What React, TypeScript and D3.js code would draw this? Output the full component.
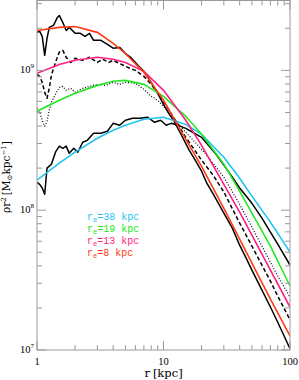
import React from 'react'
import * as d3 from 'd3'

// smooth fits, sampled at the same radii
const rFit = [1, 1.5, 2, 3, 4, 5, 7, 10, 15, 20, 30, 40, 50, 70, 100]
const fitRe8 = [1.93e9, 2.03e9, 2.06e9, 1.87e9, 1.56e9, 1.32e9, 9.68e8, 6.11e8, 3.21e8, 2.06e8, 1.03e8, 6.21e7, 4.18e7, 2.31e7, 1.26e7]
const fitRe13 = [9.52e8, 1.1e9, 1.18e9, 1.24e9, 1.2e9, 1.14e9, 9.84e8, 7.2e8, 4.4e8, 2.91e8, 1.53e8, 9.68e7, 6.63e7, 3.73e7, 2.03e7]
const fitRe19 = [5.1e8, 6.11e8, 6.85e8, 7.81e8, 8.35e8, 8.48e8, 7.94e8, 6.52e8, 4.69e8, 3.49e8, 2.13e8, 1.37e8, 9.52e7, 5.53e7, 2.87e7]
const fitRe38 = [1.64e8, 2.17e8, 2.6e8, 3.27e8, 3.73e8, 4.05e8, 4.47e8, 4.62e8, 4.11e8, 3.49e8, 2.39e8, 1.69e8, 1.26e8, 8.21e7, 5.01e7]

// simulation profiles
const rSimA = [1, 1.05, 1.1, 1.15, 1.2, 1.25, 1.35, 1.45, 1.5, 1.6, 1.7, 1.8, 2, 2.2, 2.4, 2.6, 2.8, 3.2, 3.5, 4, 4.5, 5, 5.5, 6, 6.5, 7, 8, 9, 10, 11, 12, 14, 16, 18, 20, 22, 25, 30, 35, 40, 45, 50, 60, 70, 80, 100]
const simA = [1.87e9, 1.9e9, 1.75e9, 1.28e9, 1.69e9, 2.03e9, 2.1e9, 2.39e9, 2.47e9, 2.2e9, 1.93e9, 2.03e9, 1.84e9, 1.84e9, 1.75e9, 1.84e9, 1.64e9, 1.64e9, 1.56e9, 1.44e9, 1.46e9, 1.32e9, 1.24e9, 1.14e9, 1.05e9, 9.84e8, 8.21e8, 6.85e8, 5.71e8, 4.93e8, 4.4e8, 3.38e8, 2.68e8, 2.24e8, 1.9e8, 1.56e8, 1.28e8, 9.52e7, 7.44e7, 5.62e7, 4.54e7, 3.73e7, 2.68e7, 2.03e7, 1.58e7, 1.02e7]

const rSimB = [1, 1.05, 1.1, 1.15, 1.2, 1.25, 1.3, 1.4, 1.5, 1.6, 1.7, 1.85, 2, 2.3, 2.6, 3, 3.3, 3.7, 4, 4.5, 5, 5.5, 6, 7, 8, 9, 10, 12, 15, 20, 25, 30, 40, 50, 60, 70, 80, 100]
const simB = [9.36e8, 9.06e8, 8.21e8, 6.96e8, 6.31e8, 7.44e8, 9.21e8, 1.14e9, 1.35e9, 1.39e9, 1.24e9, 1.14e9, 1.22e9, 1.18e9, 1.24e9, 1.14e9, 1.2e9, 1.14e9, 1.18e9, 1.12e9, 1.07e9, 1.03e9, 1.0e9, 9.06e8, 7.94e8, 6.85e8, 6.01e8, 4.62e8, 3.32e8, 2.28e8, 1.75e8, 1.35e8, 8.08e7, 5.53e7, 4.05e7, 3.11e7, 2.43e7, 1.64e7]

const rSimC = [1, 1.05, 1.1, 1.15, 1.2, 1.25, 1.3, 1.4, 1.5, 1.6, 1.7, 1.85, 2, 2.3, 2.6, 3, 3.5, 4, 4.5, 5, 6, 7, 8, 9, 10, 12, 15, 20, 25, 30, 40, 50, 60, 70, 80, 100]
const simC = [5.35e8, 5.01e8, 4.4e8, 3.98e8, 4.32e8, 5.18e8, 5.91e8, 6.74e8, 7.56e8, 7.69e8, 7.2e8, 7.44e8, 6.96e8, 7.44e8, 7.69e8, 7.94e8, 7.81e8, 8.21e8, 7.94e8, 8.21e8, 8.08e8, 7.32e8, 6.52e8, 6.11e8, 5.53e8, 4.54e8, 3.61e8, 2.73e8, 2.13e8, 1.72e8, 1.1e8, 7.56e7, 5.53e7, 4.25e7, 3.38e7, 2.39e7]

const rSimD = [1, 1.05, 1.1, 1.15, 1.2, 1.3, 1.4, 1.5, 1.6, 1.7, 1.8, 1.95, 2.1, 2.3, 2.5, 2.8, 3.2, 3.6, 4, 4.5, 5, 5.7, 6.5, 7.5, 8.5, 9.5, 10.5, 11.5, 13, 15, 17, 20, 23, 26, 30, 35, 40, 50, 60, 70, 80, 100]
const simD = [1.58e8, 1.53e8, 1.44e8, 1.3e8, 2.0e8, 2.13e8, 2.6e8, 2.87e8, 2.77e8, 2.87e8, 2.55e8, 2.77e8, 2.6e8, 3.06e8, 3.16e8, 3.55e8, 3.55e8, 3.67e8, 4.18e8, 4.05e8, 4.4e8, 4.54e8, 4.54e8, 4.62e8, 4.25e8, 4.4e8, 4.05e8, 4.18e8, 4.05e8, 3.85e8, 3.61e8, 3.32e8, 2.87e8, 2.51e8, 2.1e8, 1.72e8, 1.44e8, 1.12e8, 8.77e7, 6.96e7, 5.72e7, 4.05e7]

const legendRe = ['38', '19', '13', '8']
const legendColors = ['#1ec4f0', '#22e822', '#ff1f82', '#ff3a14']
const xLabels = [1, 10, 100]
const yLabelExp = [7, 8, 9]

const W = 299, H = 380
const margin = { left: 37, right: 9, top: 0.5, bottom: 30 }

export default function App() {
	const x = d3.scaleLog().domain([1, 100]).range([margin.left, W - margin.right])
	const y = d3.scaleLog().domain([1e7, 3.16e9]).range([H - margin.bottom, margin.top])

	const line = d3
		.line<[number, number]>()
		.x((d) => x(d[0]))
		.y((d) => y(d[1]))
	const path = (rs: number[], vs: number[]) => line(rs.map((r, i) => [r, vs[i]]) as [number, number][]) || ''

	const axisColor = '#9a9a9a'
	const serif = "'Liberation Serif', 'Times New Roman', serif"
	const wideSerif = "'DejaVu Serif', serif"
	const x0 = x(1), x1 = x(100), y0 = y(1e7), y1 = margin.top
	const isMajor = (v: number) => Math.abs(Math.log10(v) - Math.round(Math.log10(v))) < 1e-6

	const xt = x.ticks()
	const yt = y.ticks().filter((v) => v <= 3.16e9)

	const sims = [
		{ rs: rSimA, vs: simA, dash: undefined, w: 1.5 },
		{ rs: rSimB, vs: simB, dash: '4,2.5', w: 1.5 },
		{ rs: rSimC, vs: simC, dash: '1,1.8', w: 1.2 },
		{ rs: rSimD, vs: simD, dash: undefined, w: 1.5 },
	]
	const fits = [fitRe38, fitRe19, fitRe13, fitRe8]

	return (
		<svg width={W} height={H} style={{ position: 'absolute', left: 0, top: 0, background: '#fff' }}>
			<defs>
				<clipPath id="plot">
					<rect x={x0} y={y1} width={x1 - x0} height={y0 - y1} />
				</clipPath>
			</defs>
			<g clipPath="url(#plot)" fill="none">
				{sims.map((s, i) => (
					<path key={'s' + i} d={path(s.rs, s.vs)} stroke="#000" strokeWidth={s.w} strokeDasharray={s.dash} strokeLinejoin="round" />
				))}
				{fits.map((f, i) => (
					<path key={'f' + i} d={path(rFit, f)} stroke={legendColors[i]} strokeWidth={1.6} />
				))}
			</g>

			{/* frame and ticks */}
			<rect x={x0} y={y1} width={x1 - x0} height={y0 - y1} fill="none" stroke={axisColor} strokeWidth={1} />
			{xt.map((v, i) => {
				const len = isMajor(v) ? 9 : 5
				return (
					<g key={'xt' + i} stroke={axisColor}>
						<line x1={x(v)} x2={x(v)} y1={y0} y2={y0 - len} />
						<line x1={x(v)} x2={x(v)} y1={y1} y2={y1 + len} />
					</g>
				)
			})}
			{yt.map((v, i) => {
				const len = isMajor(v) ? 9 : 5
				return (
					<g key={'yt' + i} stroke={axisColor}>
						<line x1={x0} x2={x0 + len} y1={y(v)} y2={y(v)} />
						<line x1={x1} x2={x1 - len} y1={y(v)} y2={y(v)} />
					</g>
				)
			})}

			{/* tick labels */}
			{xLabels.map((v) => (
				<text key={'xl' + v} x={x(v)} y={y0 + 15} textAnchor="middle" fontFamily={serif} fontSize={10.5}>
					{v}
				</text>
			))}
			{yLabelExp.map((e) => (
				<text key={'yl' + e} x={x0 - 3} y={y(Math.pow(10, e)) + 3} textAnchor="end" fontFamily={serif} fontSize={10.5}>
					10<tspan fontSize={7} dy={-5}>{e}</tspan>
				</text>
			))}

			<text x={(x0 + x1) / 2} y={H - 3} textAnchor="middle" fontFamily={wideSerif} fontSize={11.5}>
				r<tspan dx={3}>[kpc]</tspan>
			</text>
			<text transform={`translate(10,${177}) rotate(-90)`} textAnchor="middle" fontFamily={wideSerif} fontSize={10.5}>
				ρr<tspan fontSize={7} dy={-4}>2</tspan>
				<tspan dy={4} dx={2}>[M</tspan>
				<tspan fontSize={7} dy={2}>⊙</tspan>
				<tspan dy={-2}>kpc</tspan>
				<tspan fontSize={7} dy={-4}>−1</tspan>
				<tspan dy={4}>]</tspan>
			</text>

			{/* legend */}
			{legendRe.map((re, i) => (
				<text key={'lg' + i} x={87} y={220 + i * 12} fill={legendColors[i]} fontFamily="'Liberation Mono', monospace" fontSize={10}>
					r<tspan fontSize={7} dy={2}>e</tspan>
					<tspan dy={-2}>={re} kpc</tspan>
				</text>
			))}
		</svg>
	)
}
